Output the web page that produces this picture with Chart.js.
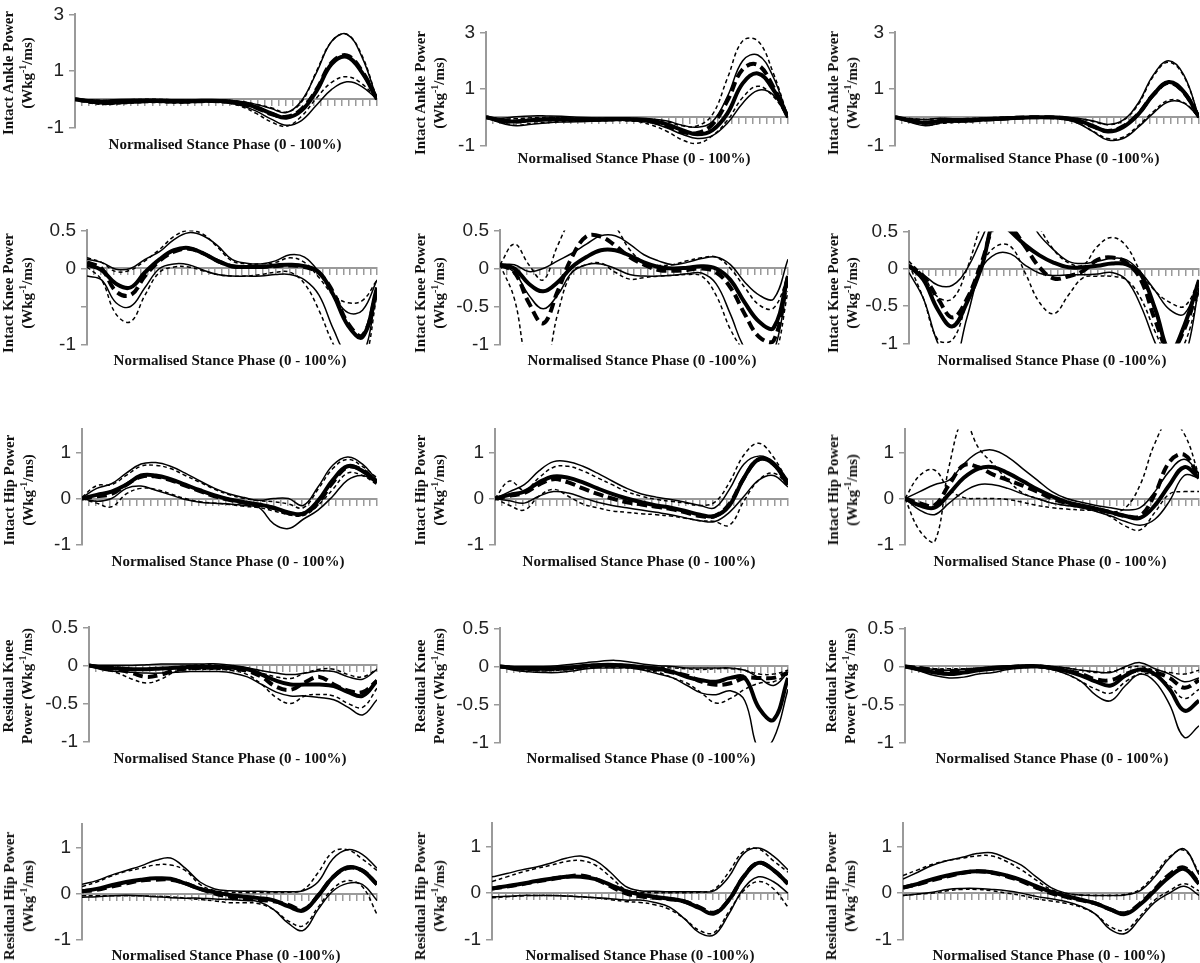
<!DOCTYPE html>
<html>
<head>
<meta charset="utf-8">
<script src="https://cdn.jsdelivr.net/npm/chart.js@4.4.0/dist/chart.umd.min.js"></script>
<style>
  body { margin: 0; background: #fff; width: 1200px; height: 963px; position: relative; overflow: hidden; }
  canvas { position: absolute; }
  .ytitle { position: absolute; font: bold 15px "Liberation Serif", "Times New Roman", serif; color: #111;
            text-align: center; white-space: nowrap; line-height: 19px; transform: translate(-50%, -50%) rotate(-90deg); }
  .ytitle sup { font-size: 10px; line-height: 0; }
  .xtitle { position: absolute; font: bold 15px "Liberation Serif", "Times New Roman", serif; color: #111;
            white-space: nowrap; transform: translate(-50%, -50%); }
</style>
</head>
<body>
<script>
const pct = [0, 5, 10, 15, 20, 25, 30, 35, 40, 45, 50, 55, 60, 65, 70, 75, 80, 85, 90, 95, 100];

// y tick labels
const ankleTicks = [3, 1, -1];
const kneeTicks = [0.5, 0, -0.5, -1];
const hipTicks = [1, 0, -1];

// ---- intact ankle ----
const ank1Solid   = [0,-0.07,-0.1,-0.08,-0.06,-0.05,-0.06,-0.07,-0.06,-0.05,-0.07,-0.14,-0.28,-0.5,-0.65,-0.4,0.3,1.25,1.5,0.95,0];
const ank1Dash    = [0,-0.08,-0.12,-0.1,-0.08,-0.06,-0.07,-0.08,-0.07,-0.06,-0.08,-0.15,-0.3,-0.52,-0.62,-0.35,0.35,1.3,1.55,1.0,0];
const ank1SolidHi = [0,-0.02,-0.03,-0.01,0,0,-0.01,-0.02,-0.02,-0.02,-0.03,-0.08,-0.18,-0.33,-0.47,-0.05,0.95,2.05,2.3,1.5,0];
const ank1SolidLo = [0,-0.12,-0.17,-0.15,-0.12,-0.1,-0.11,-0.12,-0.1,-0.09,-0.12,-0.22,-0.42,-0.7,-0.92,-0.75,-0.2,0.35,0.62,0.45,0];
const ank1DashHi  = [0,-0.02,-0.04,-0.02,-0.01,0,-0.01,-0.02,-0.02,-0.02,-0.03,-0.08,-0.18,-0.3,-0.45,-0.1,1.0,2.05,2.3,1.55,0];
const ank1DashLo  = [0,-0.13,-0.18,-0.16,-0.13,-0.11,-0.12,-0.13,-0.11,-0.1,-0.13,-0.25,-0.5,-0.8,-0.95,-0.6,0.05,0.6,0.8,0.55,0];

const ank2Solid   = [0,-0.12,-0.15,-0.1,-0.08,-0.07,-0.08,-0.08,-0.07,-0.06,-0.08,-0.12,-0.25,-0.45,-0.6,-0.45,0.15,1.2,1.55,1.0,0];
const ank2Dash    = [0,-0.1,-0.15,-0.1,-0.07,-0.06,-0.07,-0.08,-0.07,-0.06,-0.09,-0.15,-0.3,-0.52,-0.55,-0.25,0.6,1.7,1.85,1.1,0];
const ank2SolidHi = [0,-0.03,0.02,0.05,0.05,0.04,0,-0.02,-0.02,-0.02,-0.03,-0.06,-0.13,-0.28,-0.35,-0.15,0.75,2.0,2.2,1.45,0];
const ank2SolidLo = [0,-0.2,-0.3,-0.25,-0.2,-0.17,-0.16,-0.14,-0.12,-0.1,-0.13,-0.2,-0.38,-0.6,-0.75,-0.65,-0.2,0.5,0.95,0.8,0];
const ank2DashHi  = [0,-0.05,-0.05,-0.02,0,0,-0.03,-0.04,-0.03,-0.03,-0.05,-0.08,-0.15,-0.3,-0.3,0.1,1.4,2.7,2.7,1.6,0];
const ank2DashLo  = [0,-0.18,-0.28,-0.22,-0.18,-0.15,-0.14,-0.13,-0.12,-0.12,-0.15,-0.28,-0.5,-0.8,-0.92,-0.65,-0.1,0.7,1.1,0.75,0];

const ank3Solid   = [0,-0.12,-0.2,-0.12,-0.1,-0.1,-0.07,-0.05,-0.02,0,0,-0.02,-0.1,-0.3,-0.5,-0.35,0.1,0.8,1.25,0.9,0];
const ank3Dash    = [0,-0.1,-0.18,-0.13,-0.12,-0.11,-0.08,-0.05,-0.02,0,0,-0.03,-0.12,-0.32,-0.48,-0.32,0.12,0.8,1.22,0.88,0];
const ank3SolidHi = [0,-0.05,-0.08,-0.03,-0.05,-0.04,-0.02,0,0.02,0.02,0.01,0,-0.03,-0.12,-0.25,-0.1,0.5,1.5,2.0,1.5,0];
const ank3SolidLo = [0,-0.18,-0.3,-0.2,-0.17,-0.15,-0.1,-0.08,-0.05,-0.03,-0.02,-0.06,-0.2,-0.5,-0.8,-0.75,-0.35,0.15,0.55,0.5,0];
const ank3DashHi  = [0,-0.04,-0.08,-0.04,-0.06,-0.04,-0.02,0,0.01,0.02,0.01,-0.01,-0.04,-0.14,-0.26,-0.12,0.45,1.45,1.95,1.45,0];
const ank3DashLo  = [0,-0.16,-0.28,-0.22,-0.18,-0.15,-0.1,-0.07,-0.04,-0.02,-0.02,-0.06,-0.2,-0.48,-0.75,-0.7,-0.3,0.2,0.6,0.52,0];

// ---- intact knee ----
const kne1Solid   = [0.05,-0.02,-0.2,-0.25,-0.05,0.12,0.24,0.27,0.2,0.1,0.03,0.02,0.02,0.04,0.05,0.03,-0.05,-0.35,-0.75,-0.9,-0.25];
const kne1Dash    = [0.08,0,-0.3,-0.35,-0.1,0.1,0.22,0.26,0.2,0.1,0.03,0.02,0.02,0.03,0.04,0.02,-0.06,-0.32,-0.72,-0.88,-0.3];
const kne1SolidHi = [0.12,0.08,-0.01,0,0.12,0.22,0.38,0.47,0.43,0.3,0.12,0.07,0.06,0.1,0.18,0.15,-0.05,-0.35,-0.58,-0.55,-0.15];
const kne1SolidLo = [-0.1,-0.15,-0.45,-0.5,-0.25,0,0.06,0.05,-0.02,-0.08,-0.1,-0.1,-0.1,-0.08,-0.08,-0.15,-0.35,-0.8,-1.15,-1.15,-0.3];
const kne1DashHi  = [0.14,0.08,-0.04,-0.02,0.1,0.25,0.42,0.5,0.45,0.28,0.1,0.06,0.06,0.08,0.14,0.08,-0.12,-0.35,-0.45,-0.42,-0.15];
const kne1DashLo  = [0.02,-0.15,-0.6,-0.7,-0.35,-0.05,0.02,0.02,-0.03,-0.08,-0.1,-0.1,-0.08,-0.05,-0.05,-0.2,-0.55,-1.0,-1.3,-1.3,-0.35];

const kne2Solid   = [0.05,0,-0.2,-0.3,-0.18,0.02,0.15,0.24,0.24,0.17,0.08,0.02,0,0.01,0.03,0,-0.15,-0.45,-0.7,-0.78,-0.1];
const kne2Dash    = [0.05,-0.05,-0.45,-0.72,-0.3,0.15,0.42,0.42,0.3,0.15,0.05,-0.02,-0.03,-0.02,0,-0.05,-0.25,-0.6,-0.9,-0.95,-0.1];
const kne2SolidHi = [0.05,0.05,-0.04,0,0.1,0.2,0.32,0.43,0.43,0.32,0.18,0.1,0.05,0.08,0.13,0.15,0.05,-0.18,-0.35,-0.4,0.12];
const kne2SolidLo = [0.05,-0.05,-0.35,-0.53,-0.35,-0.05,0.05,0.06,0,-0.08,-0.1,-0.1,-0.09,-0.07,-0.06,-0.2,-0.6,-1.05,-1.2,-1.1,-0.15];
const kne2DashHi  = [0.05,0.32,0.05,-0.15,0.3,0.65,0.75,0.7,0.55,0.25,0.08,0.04,0.05,0.1,0.14,0.15,0,-0.25,-0.48,-0.52,-0.1];
const kne2DashLo  = [0.05,-0.4,-1.3,-1.4,-0.6,-0.05,0.05,0.07,-0.05,-0.14,-0.12,-0.1,-0.09,-0.08,-0.1,-0.35,-0.8,-1.1,-1.3,-1.2,-0.3];

const kne3Solid   = [0.04,-0.15,-0.55,-0.77,-0.45,0.02,0.68,0.5,0.32,0.18,0.08,0.02,0.02,0.04,0.07,0.06,-0.08,-0.55,-1.1,-0.75,-0.15];
const kne3Dash    = [0.04,-0.1,-0.4,-0.65,-0.4,0.08,0.6,0.55,0.3,0.02,-0.13,-0.1,-0.03,0.12,0.15,0.08,-0.15,-0.7,-1.1,-0.8,-0.2];
const kne3SolidHi = [0.02,-0.08,-0.22,-0.22,0,0.4,0.8,0.9,0.75,0.45,0.25,0.1,0.07,0.1,0.14,0.12,-0.05,-0.3,-0.55,-0.6,-0.15];
const kne3SolidLo = [-0.05,-0.4,-1.0,-1.3,-0.65,0,0.2,0.2,0.05,-0.06,-0.09,-0.08,-0.08,-0.07,-0.05,-0.15,-0.5,-1.0,-1.4,-1.2,-0.25];
const kne3DashHi  = [0.1,-0.1,-0.38,-0.4,0,0.6,1.0,1.1,0.9,0.55,0.25,0.08,0.05,0.3,0.42,0.3,-0.05,-0.3,-0.45,-0.5,-0.15];
const kne3DashLo  = [0.06,-0.4,-0.95,-0.95,-0.45,0.05,0.3,0.3,-0.05,-0.45,-0.6,-0.35,-0.12,-0.1,-0.1,-0.15,-0.4,-0.85,-1.2,-1.0,-0.3];

// ---- intact hip ----
const hip1Solid   = [0,0.08,0.15,0.3,0.5,0.5,0.42,0.3,0.18,0.07,-0.02,-0.08,-0.13,-0.2,-0.3,-0.33,-0.05,0.4,0.7,0.6,0.35];
const hip1Dash    = [0,0.05,0.1,0.3,0.47,0.48,0.4,0.28,0.16,0.05,-0.03,-0.09,-0.14,-0.21,-0.32,-0.33,-0.1,0.35,0.68,0.62,0.35];
const hip1SolidHi = [0.02,0.22,0.32,0.55,0.75,0.78,0.7,0.55,0.38,0.22,0.1,0.02,-0.04,0,0,-0.15,0.25,0.72,0.9,0.75,0.4];
const hip1SolidLo = [0,-0.06,0,0.22,0.27,0.18,0.08,-0.02,-0.08,-0.1,-0.12,-0.15,-0.2,-0.55,-0.65,-0.45,-0.25,0.05,0.4,0.5,0.35];
const hip1DashHi  = [0.03,0.28,0.3,0.5,0.7,0.72,0.65,0.5,0.35,0.2,0.08,0,-0.05,-0.07,-0.12,-0.2,0.2,0.65,0.85,0.7,0.45];
const hip1DashLo  = [0,-0.1,-0.18,0.1,0.22,0.2,0.1,0,-0.07,-0.1,-0.13,-0.17,-0.2,-0.27,-0.35,-0.37,-0.15,0.2,0.55,0.5,0.3];

const hip2Solid   = [0,0.08,0.15,0.35,0.48,0.45,0.35,0.22,0.1,0,-0.08,-0.15,-0.2,-0.27,-0.35,-0.38,-0.15,0.45,0.85,0.75,0.3];
const hip2Dash    = [0,0.06,0.12,0.3,0.42,0.35,0.22,0.1,0,-0.08,-0.13,-0.18,-0.23,-0.3,-0.38,-0.38,-0.12,0.45,0.85,0.75,0.3];
const hip2SolidHi = [0,0.15,0.3,0.6,0.8,0.8,0.7,0.55,0.38,0.22,0.1,0.03,-0.02,-0.08,-0.15,-0.2,0.2,0.75,0.92,0.8,0.4];
const hip2SolidLo = [0,-0.05,-0.1,0.05,0.15,0.12,0.02,-0.08,-0.15,-0.2,-0.25,-0.3,-0.35,-0.42,-0.48,-0.5,-0.3,0.05,0.4,0.5,0.25];
const hip2DashHi  = [0,0.38,0.18,0.45,0.68,0.7,0.6,0.45,0.3,0.15,0.05,-0.02,-0.06,-0.1,-0.15,-0.08,0.35,0.95,1.2,0.9,0.35];
const hip2DashLo  = [0,-0.15,-0.25,0.05,0.2,0.05,-0.12,-0.2,-0.27,-0.3,-0.33,-0.35,-0.38,-0.43,-0.48,-0.5,-0.58,-0.05,0.4,0.55,0.3];

const hip3Solid   = [0,-0.15,-0.2,0.1,0.45,0.65,0.68,0.55,0.38,0.2,0.05,-0.08,-0.15,-0.22,-0.3,-0.38,-0.42,-0.15,0.3,0.68,0.45];
const hip3Dash    = [0,-0.1,-0.15,0.3,0.72,0.68,0.52,0.4,0.28,0.15,0,-0.1,-0.16,-0.22,-0.3,-0.38,-0.38,0.1,0.8,0.95,0.45];
const hip3SolidHi = [0,0.15,0.3,0.4,0.75,1.0,1.05,0.9,0.65,0.4,0.15,0,-0.08,-0.15,-0.2,-0.25,-0.2,0.15,0.6,0.85,0.55];
const hip3SolidLo = [0,-0.25,-0.35,-0.1,0.15,0.3,0.3,0.22,0.1,0,-0.1,-0.15,-0.2,-0.28,-0.38,-0.5,-0.58,-0.45,-0.05,0.5,0.45];
const hip3DashHi  = [0,-0.7,-0.95,0.7,1.7,1.1,0.75,0.4,0.12,0,-0.1,-0.15,-0.2,-0.25,-0.3,-0.2,0.3,1.2,1.7,1.4,0.5];
const hip3DashLo  = [0,0.5,0.62,0.2,0.02,0,0,-0.02,-0.08,-0.15,-0.2,-0.23,-0.25,-0.27,-0.4,-0.6,-0.68,-0.3,0.1,0.15,0.15];

// ---- residual knee ----
const rkn1Solid   = [0,-0.03,-0.04,-0.05,-0.05,-0.04,-0.03,-0.02,-0.02,-0.02,-0.03,-0.05,-0.12,-0.2,-0.25,-0.25,-0.25,-0.27,-0.35,-0.4,-0.2];
const rkn1Dash    = [0,-0.03,-0.05,-0.1,-0.15,-0.12,-0.06,-0.04,-0.03,-0.03,-0.04,-0.07,-0.15,-0.28,-0.32,-0.22,-0.15,-0.25,-0.33,-0.35,-0.2];
const rkn1SolidHi = [0,0,0,0,0.01,0.02,0.02,0.02,0.02,0.02,0,-0.03,-0.07,-0.1,-0.12,-0.1,-0.07,-0.08,-0.15,-0.18,-0.05];
const rkn1SolidLo = [0,-0.06,-0.08,-0.09,-0.1,-0.1,-0.09,-0.08,-0.08,-0.08,-0.1,-0.15,-0.25,-0.35,-0.4,-0.4,-0.42,-0.45,-0.55,-0.65,-0.45];
const rkn1DashHi  = [0,-0.01,-0.02,-0.04,-0.06,-0.04,-0.02,0,0.01,0,-0.02,-0.05,-0.1,-0.15,-0.17,-0.1,-0.05,-0.05,-0.12,-0.15,-0.05];
const rkn1DashLo  = [0,-0.05,-0.1,-0.18,-0.23,-0.18,-0.08,-0.05,-0.05,-0.05,-0.07,-0.12,-0.25,-0.42,-0.5,-0.4,-0.38,-0.4,-0.5,-0.55,-0.3];

const rkn2Solid   = [0,-0.02,-0.03,-0.03,-0.02,-0.01,0.01,0.02,0.02,0.01,-0.01,-0.03,-0.07,-0.14,-0.18,-0.2,-0.15,-0.15,-0.55,-0.7,-0.15];
const rkn2Dash    = [0,-0.02,-0.03,-0.04,-0.03,-0.02,0,0.01,0.01,0,-0.02,-0.04,-0.08,-0.12,-0.2,-0.24,-0.22,-0.15,-0.15,-0.15,-0.08];
const rkn2SolidHi = [0,0,0,0,0.01,0.03,0.05,0.07,0.08,0.06,0.03,0.01,0,-0.02,-0.02,-0.02,-0.02,-0.05,-0.15,-0.25,-0.08];
const rkn2SolidLo = [0,-0.05,-0.07,-0.08,-0.08,-0.06,-0.03,-0.02,-0.02,-0.02,-0.05,-0.1,-0.15,-0.25,-0.35,-0.37,-0.32,-0.45,-1.1,-0.95,-0.3];
const rkn2DashHi  = [0,-0.01,-0.02,-0.02,-0.01,0,0.02,0.03,0.03,0.02,0,-0.01,-0.02,-0.03,-0.04,-0.03,-0.03,-0.05,-0.1,-0.1,-0.05];
const rkn2DashLo  = [0,-0.04,-0.05,-0.06,-0.05,-0.04,-0.02,-0.01,-0.01,-0.02,-0.04,-0.08,-0.15,-0.22,-0.35,-0.48,-0.42,-0.3,-0.22,-0.2,-0.1];

const rkn3Solid   = [0,-0.04,-0.08,-0.1,-0.08,-0.05,-0.03,-0.01,0,0,-0.02,-0.06,-0.12,-0.2,-0.25,-0.12,-0.04,-0.1,-0.3,-0.58,-0.45];
const rkn3Dash    = [0,-0.02,-0.05,-0.06,-0.05,-0.04,-0.02,-0.01,0,0,-0.02,-0.05,-0.1,-0.17,-0.18,-0.1,-0.05,-0.08,-0.15,-0.28,-0.18];
const rkn3SolidHi = [0,-0.02,-0.04,-0.05,-0.04,-0.02,0,0.01,0.02,0.02,0,-0.02,-0.05,-0.07,-0.08,0,0.05,-0.03,-0.1,-0.2,-0.15];
const rkn3SolidLo = [0,-0.06,-0.12,-0.15,-0.14,-0.1,-0.08,-0.04,-0.02,-0.01,-0.04,-0.1,-0.2,-0.38,-0.45,-0.25,-0.1,-0.2,-0.5,-0.93,-0.78];
const rkn3DashHi  = [0,-0.01,-0.03,-0.03,-0.03,-0.02,-0.01,0,0.01,0.01,0,-0.02,-0.05,-0.08,-0.07,-0.02,0,-0.05,-0.08,-0.1,-0.05];
const rkn3DashLo  = [0,-0.03,-0.07,-0.08,-0.07,-0.05,-0.03,-0.02,-0.01,-0.01,-0.04,-0.1,-0.2,-0.3,-0.35,-0.2,-0.1,-0.12,-0.25,-0.42,-0.3];

// ---- residual hip ----
const rhp1Solid   = [0.05,0.1,0.18,0.25,0.3,0.33,0.32,0.22,0.1,0.03,-0.03,-0.07,-0.1,-0.15,-0.28,-0.37,-0.05,0.35,0.57,0.5,0.2];
const rhp1Dash    = [0.05,0.08,0.15,0.22,0.28,0.3,0.3,0.22,0.1,0,-0.07,-0.12,-0.14,-0.17,-0.25,-0.35,-0.05,0.35,0.55,0.5,0.2];
const rhp1SolidHi = [0.2,0.28,0.4,0.5,0.6,0.72,0.77,0.55,0.25,0.1,0.06,0.05,0.05,0.04,0.04,0.06,0.25,0.75,0.95,0.85,0.55];
const rhp1SolidLo = [-0.08,-0.07,-0.05,-0.04,-0.05,-0.07,-0.09,-0.1,-0.1,-0.12,-0.13,-0.15,-0.18,-0.35,-0.65,-0.8,-0.35,0.05,0.22,0.2,-0.15];
const rhp1DashHi  = [0.15,0.25,0.38,0.48,0.55,0.62,0.62,0.5,0.2,0.06,0.03,0.02,0.02,0.02,0.03,0.08,0.45,0.9,0.95,0.75,0.5];
const rhp1DashLo  = [-0.05,-0.05,-0.05,-0.05,-0.05,-0.06,-0.07,-0.1,-0.13,-0.16,-0.2,-0.2,-0.22,-0.35,-0.6,-0.7,-0.3,0.1,0.28,0.15,-0.45];

const rhp2Solid   = [0.1,0.15,0.2,0.26,0.31,0.35,0.35,0.3,0.18,0.05,-0.03,-0.08,-0.12,-0.18,-0.32,-0.44,-0.15,0.35,0.65,0.5,0.2];
const rhp2Dash    = [0.1,0.14,0.19,0.25,0.3,0.35,0.38,0.3,0.15,0,-0.07,-0.1,-0.13,-0.18,-0.3,-0.42,-0.15,0.35,0.65,0.5,0.2];
const rhp2SolidHi = [0.35,0.42,0.5,0.56,0.65,0.75,0.8,0.7,0.45,0.15,0.05,0.04,0.03,0.03,0.03,0.05,0.35,0.85,0.97,0.8,0.5];
const rhp2SolidLo = [-0.08,-0.07,-0.05,-0.05,-0.05,-0.06,-0.08,-0.1,-0.12,-0.15,-0.15,-0.2,-0.3,-0.55,-0.85,-0.9,-0.45,0.1,0.35,0.25,0];
const rhp2DashHi  = [0.25,0.35,0.45,0.53,0.6,0.68,0.7,0.6,0.35,0.08,0.02,0.01,0.01,0.01,0.02,0.08,0.45,0.9,0.95,0.7,0.45];
const rhp2DashLo  = [-0.1,-0.08,-0.06,-0.05,-0.05,-0.06,-0.08,-0.1,-0.14,-0.18,-0.2,-0.25,-0.35,-0.55,-0.8,-0.85,-0.4,0.05,0.25,0.1,-0.3];

const rhp3Solid   = [0.12,0.2,0.3,0.38,0.44,0.47,0.45,0.38,0.28,0.15,0.03,-0.06,-0.14,-0.22,-0.35,-0.45,-0.25,0.05,0.35,0.52,0.2];
const rhp3Dash    = [0.12,0.19,0.28,0.36,0.43,0.47,0.44,0.36,0.26,0.12,0,-0.08,-0.15,-0.22,-0.35,-0.43,-0.23,0.08,0.4,0.55,0.22];
const rhp3SolidHi = [0.3,0.45,0.6,0.7,0.77,0.85,0.87,0.75,0.6,0.35,0.12,0,-0.04,-0.05,-0.05,-0.04,0.05,0.35,0.75,0.95,0.4];
const rhp3SolidLo = [-0.05,-0.02,0.02,0.08,0.1,0.1,0.08,0.05,0,-0.07,-0.12,-0.18,-0.28,-0.45,-0.78,-0.87,-0.55,-0.2,0,0.15,-0.05];
const rhp3DashHi  = [0.38,0.5,0.62,0.7,0.75,0.8,0.8,0.68,0.5,0.28,0.08,-0.01,-0.04,-0.05,-0.05,-0.03,0.08,0.4,0.78,0.92,0.45];
const rhp3DashLo  = [-0.05,-0.02,0,0.05,0.08,0.08,0.05,0,-0.05,-0.12,-0.17,-0.22,-0.3,-0.45,-0.72,-0.8,-0.5,-0.15,0.05,0.2,0.05];

const unit = '(Wkg<sup>-1</sup>/ms)';
const xA = 'Normalised Stance Phase (0 - 100%)';
const xB = 'Normalised Stance Phase (0 -100%)';

// panel placement: y axis x, right end, pixel rows of max / min value, title centres
const panels = [
  { ax: 75,  rx: 377,  ty: 12,  by: 130, min: -1, max: 3,   ticks: ankleTicks, hide: [], t: ['Intact Ankle Power', unit], tx: 18,  ty2: 73,  xt: xA, xx: 225,  xy: 144, lines: [ank1Solid, ank1Dash, ank1SolidHi, ank1SolidLo, ank1DashHi, ank1DashLo] },
  { ax: 486, rx: 788,  ty: 30,  by: 148, min: -1, max: 3,   ticks: ankleTicks, hide: [], t: ['Intact Ankle Power', unit], tx: 430, ty2: 93,  xt: xA, xx: 634,  xy: 158, lines: [ank2Solid, ank2Dash, ank2SolidHi, ank2SolidLo, ank2DashHi, ank2DashLo] },
  { ax: 895, rx: 1199, ty: 30,  by: 148, min: -1, max: 3,   ticks: ankleTicks, hide: [], t: ['Intact Ankle Power', unit], tx: 843, ty2: 93,  xt: xB, xx: 1045, xy: 158, lines: [ank3Solid, ank3Dash, ank3SolidHi, ank3SolidLo, ank3DashHi, ank3DashLo] },
  { ax: 87,  rx: 377,  ty: 228, by: 347, min: -1, max: 0.5, ticks: kneeTicks, hide: [-0.5], t: ['Intact Knee Power', unit], tx: 18, ty2: 293, xt: xA, xx: 230,  xy: 360, lines: [kne1Solid, kne1Dash, kne1SolidHi, kne1SolidLo, kne1DashHi, kne1DashLo] },
  { ax: 500, rx: 788,  ty: 228, by: 347, min: -1, max: 0.5, ticks: kneeTicks, hide: [], t: ['Intact Knee Power', unit], tx: 430,  ty2: 293, xt: xB, xx: 642,  xy: 360, lines: [kne2Solid, kne2Dash, kne2SolidHi, kne2SolidLo, kne2DashHi, kne2DashLo] },
  { ax: 909, rx: 1199, ty: 229, by: 346, min: -1, max: 0.5, ticks: kneeTicks, hide: [], t: ['Intact Knee Power', unit], tx: 843,  ty2: 293, xt: xB, xx: 1052, xy: 360, lines: [kne3Solid, kne3Dash, kne3SolidHi, kne3SolidLo, kne3DashHi, kne3DashLo] },
  { ax: 82,  rx: 377,  ty: 427, by: 547, min: -1, max: 1.5, ticks: hipTicks, hide: [], t: ['Intact Hip Power', unit], tx: 19,    ty2: 490, xt: xA, xx: 228,  xy: 561, lines: [hip1Solid, hip1Dash, hip1SolidHi, hip1SolidLo, hip1DashHi, hip1DashLo] },
  { ax: 495, rx: 788,  ty: 427, by: 547, min: -1, max: 1.5, ticks: hipTicks, hide: [], t: ['Intact Hip Power', unit], tx: 430,   ty2: 490, xt: xA, xx: 639,  xy: 561, lines: [hip2Solid, hip2Dash, hip2SolidHi, hip2SolidLo, hip2DashHi, hip2DashLo] },
  { ax: 905, rx: 1199, ty: 427, by: 547, min: -1, max: 1.5, ticks: hipTicks, hide: [], t: ['Intact Hip Power', unit], tx: 843,   ty2: 490, xt: xA, xx: 1050, xy: 561, lines: [hip3Solid, hip3Dash, hip3SolidHi, hip3SolidLo, hip3DashHi, hip3DashLo] },
  { ax: 89,  rx: 377,  ty: 625, by: 744, min: -1, max: 0.5, ticks: kneeTicks, hide: [], t: ['Residual Knee', 'Power ' + unit], tx: 18,  ty2: 686, xt: xA, xx: 230, xy: 758, lines: [rkn1Solid, rkn1Dash, rkn1SolidHi, rkn1SolidLo, rkn1DashHi, rkn1DashLo] },
  { ax: 500, rx: 788,  ty: 626, by: 745, min: -1, max: 0.5, ticks: kneeTicks, hide: [], t: ['Residual Knee', 'Power ' + unit], tx: 430, ty2: 686, xt: xB, xx: 641, xy: 758, lines: [rkn2Solid, rkn2Dash, rkn2SolidHi, rkn2SolidLo, rkn2DashHi, rkn2DashLo] },
  { ax: 905, rx: 1199, ty: 626, by: 745, min: -1, max: 0.5, ticks: kneeTicks, hide: [], t: ['Residual Knee', 'Power ' + unit], tx: 841, ty2: 686, xt: xA, xx: 1052, xy: 758, lines: [rkn3Solid, rkn3Dash, rkn3SolidHi, rkn3SolidLo, rkn3DashHi, rkn3DashLo] },
  { ax: 82,  rx: 377,  ty: 822, by: 942, min: -1, max: 1.5, ticks: hipTicks, hide: [], t: ['Residual Hip Power', unit], tx: 19,  ty2: 896, xt: xB, xx: 226,  xy: 955, lines: [rhp1Solid, rhp1Dash, rhp1SolidHi, rhp1SolidLo, rhp1DashHi, rhp1DashLo] },
  { ax: 492, rx: 788,  ty: 821, by: 942, min: -1, max: 1.5, ticks: hipTicks, hide: [], t: ['Residual Hip Power', unit], tx: 430, ty2: 896, xt: xB, xx: 640,  xy: 955, lines: [rhp2Solid, rhp2Dash, rhp2SolidHi, rhp2SolidLo, rhp2DashHi, rhp2DashLo] },
  { ax: 903, rx: 1199, ty: 821, by: 942, min: -1, max: 1.5, ticks: hipTicks, hide: [], t: ['Residual Hip Power', unit], tx: 841, ty2: 896, xt: xA, xx: 1049, xy: 955, lines: [rhp3Solid, rhp3Dash, rhp3SolidHi, rhp3SolidLo, rhp3DashHi, rhp3DashLo] }
];

// line looks: thick solid, thick dashed, thin solid x2, thin dashed x2
const styles = [
  { w: 4,   dash: [] },
  { w: 4,   dash: [10, 5] },
  { w: 1.5, dash: [] },
  { w: 1.5, dash: [] },
  { w: 1.5, dash: [4, 3] },
  { w: 1.5, dash: [4, 3] }
];

const GREY = '#9a9a9a';
const LEFT = 50, PAD = 14;

panels.forEach(function (p) {
  const cv = document.createElement('canvas');
  const w = p.rx - p.ax + LEFT + 3;
  const h = p.by - p.ty + PAD * 2;
  cv.width = w; cv.height = h;
  cv.style.left = (p.ax - LEFT) + 'px';
  cv.style.top = (p.ty - PAD) + 'px';
  document.body.appendChild(cv);

  new Chart(cv, {
    type: 'line',
    data: {
      labels: pct,
      datasets: p.lines.map(function (d, i) {
        return {
          data: d,
          borderColor: '#000',
          borderWidth: styles[i].w,
          borderDash: styles[i].dash,
          pointRadius: 0,
          fill: false,
          tension: 0.4
        };
      })
    },
    options: {
      responsive: false,
      animation: false,
      events: [],
      layout: { padding: { top: PAD, bottom: PAD, left: 0, right: 3 } },
      plugins: { legend: { display: false }, tooltip: { enabled: false } },
      scales: {
        x: {
          type: 'linear', min: 0, max: 100,
          position: { y: 0 },
          ticks: { display: false, count: 44 },
          grid: { display: true, drawOnChartArea: false, drawTicks: true, tickLength: 6, color: GREY, lineWidth: 1.5 },
          border: { display: true, color: GREY, width: 2 }
        },
        y: {
          min: p.min, max: p.max,
          afterBuildTicks: function (s) { s.ticks = p.ticks.map(function (v) { return { value: v }; }); },
          afterFit: function (s) { s.width = LEFT; },
          ticks: {
            padding: 5,
            color: '#222',
            font: { family: '"Liberation Sans", Arial, sans-serif', size: 19 },
            callback: function (v) { return p.hide.indexOf(v) >= 0 ? '' : String(v); }
          },
          grid: { display: true, drawOnChartArea: false, drawTicks: true, tickLength: 6, color: GREY, lineWidth: 1.5 },
          border: { display: true, color: GREY, width: 2 }
        }
      }
    }
  });

  const yt = document.createElement('div');
  yt.className = 'ytitle';
  yt.innerHTML = p.t[0] + '<br>' + p.t[1];
  yt.style.left = p.tx + 'px';
  yt.style.top = p.ty2 + 'px';
  document.body.appendChild(yt);

  const xt = document.createElement('div');
  xt.className = 'xtitle';
  xt.textContent = p.xt;
  xt.style.left = p.xx + 'px';
  xt.style.top = p.xy + 'px';
  document.body.appendChild(xt);
});
</script>
</body>
</html>
